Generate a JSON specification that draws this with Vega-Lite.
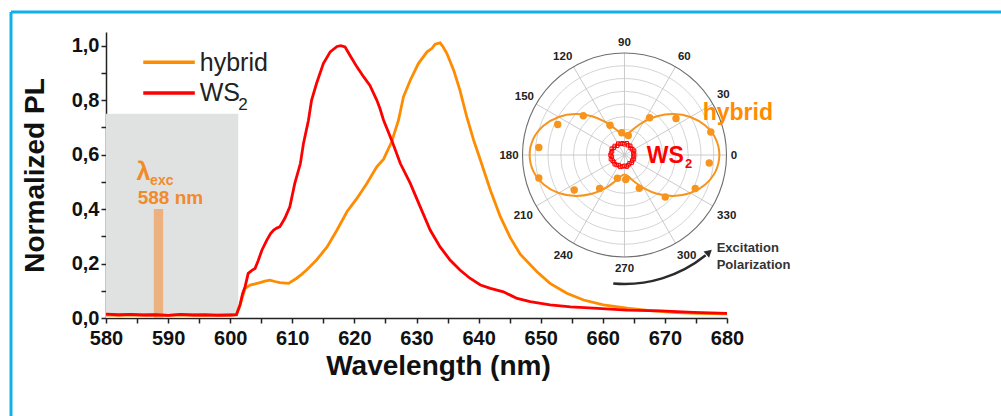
{
  "$schema": "https://vega.github.io/schema/vega-lite/v6.json",
  "width": 621,
  "height": 286,
  "autosize": {"type": "none"},
  "padding": {"left": 106, "top": 32, "right": 274, "bottom": 98},
  "background": "white",
  "config": {
    "view": {"stroke": null},
    "font": "Liberation Sans",
    "axis": {"grid": false, "tickSize": 5, "tickWidth": 1.5, "domainWidth": 1.5, "domainColor": "#222", "tickColor": "#222",
      "labelColor": "#111", "labelFontSize": 20, "labelFontWeight": "bold", "labelOverlap": false, "labelFlush": false,
      "titleFontSize": 28, "titleFontWeight": "bold", "titleColor": "#111", "zindex": 1}
  },
  "datasets": {
    "hyb": [
      {"nm": 580, "v": 0.012}, {"nm": 582, "v": 0.010}, {"nm": 584, "v": 0.012}, {"nm": 586, "v": 0.011},
      {"nm": 588, "v": 0.012}, {"nm": 590, "v": 0.010}, {"nm": 592, "v": 0.012}, {"nm": 594, "v": 0.011},
      {"nm": 596, "v": 0.010}, {"nm": 598, "v": 0.012}, {"nm": 600, "v": 0.011}, {"nm": 601, "v": 0.012},
      {"nm": 601.5, "v": 0.04}, {"nm": 602, "v": 0.08}, {"nm": 602.4, "v": 0.109}, {"nm": 603.2, "v": 0.121},
      {"nm": 604, "v": 0.125}, {"nm": 604.8, "v": 0.130}, {"nm": 605.6, "v": 0.135}, {"nm": 606.4, "v": 0.139},
      {"nm": 607.2, "v": 0.134}, {"nm": 608, "v": 0.130}, {"nm": 609.4, "v": 0.127}, {"nm": 610.7, "v": 0.146},
      {"nm": 611.5, "v": 0.160}, {"nm": 612.3, "v": 0.176}, {"nm": 613.9, "v": 0.213}, {"nm": 615.6, "v": 0.261},
      {"nm": 617.2, "v": 0.323}, {"nm": 618.8, "v": 0.390}, {"nm": 620.4, "v": 0.439}, {"nm": 622, "v": 0.494},
      {"nm": 623.6, "v": 0.555}, {"nm": 624.7, "v": 0.583}, {"nm": 626, "v": 0.647}, {"nm": 627.1, "v": 0.726},
      {"nm": 627.9, "v": 0.812}, {"nm": 629, "v": 0.873}, {"nm": 630.3, "v": 0.934}, {"nm": 631.7, "v": 0.977},
      {"nm": 632.5, "v": 0.990}, {"nm": 633, "v": 1.005}, {"nm": 633.8, "v": 1.010}, {"nm": 634.3, "v": 0.995},
      {"nm": 634.9, "v": 0.971}, {"nm": 636, "v": 0.909}, {"nm": 637, "v": 0.836}, {"nm": 638.1, "v": 0.738},
      {"nm": 639.2, "v": 0.653}, {"nm": 640.3, "v": 0.579}, {"nm": 641.9, "v": 0.469}, {"nm": 643.5, "v": 0.372},
      {"nm": 645.1, "v": 0.295}, {"nm": 646.7, "v": 0.234}, {"nm": 649.4, "v": 0.170}, {"nm": 651.5, "v": 0.127},
      {"nm": 654.2, "v": 0.091}, {"nm": 656.9, "v": 0.066}, {"nm": 660.1, "v": 0.048}, {"nm": 663.9, "v": 0.036},
      {"nm": 667.6, "v": 0.027}, {"nm": 671.9, "v": 0.020}, {"nm": 675.2, "v": 0.017}, {"nm": 680, "v": 0.015}
    ],
    "ws2": [
      {"nm": 580, "v": 0.014}, {"nm": 582, "v": 0.012}, {"nm": 584, "v": 0.013}, {"nm": 586, "v": 0.011},
      {"nm": 588, "v": 0.012}, {"nm": 590, "v": 0.010}, {"nm": 592, "v": 0.013}, {"nm": 594, "v": 0.011},
      {"nm": 596, "v": 0.012}, {"nm": 598, "v": 0.010}, {"nm": 600, "v": 0.011}, {"nm": 601, "v": 0.012},
      {"nm": 601.6, "v": 0.05}, {"nm": 602, "v": 0.09}, {"nm": 602.4, "v": 0.115}, {"nm": 602.9, "v": 0.164},
      {"nm": 603.5, "v": 0.175}, {"nm": 604, "v": 0.182}, {"nm": 604.5, "v": 0.210}, {"nm": 605.1, "v": 0.249},
      {"nm": 605.9, "v": 0.286}, {"nm": 606.5, "v": 0.310}, {"nm": 607, "v": 0.323}, {"nm": 607.5, "v": 0.330},
      {"nm": 608, "v": 0.335}, {"nm": 608.8, "v": 0.366}, {"nm": 609.6, "v": 0.408}, {"nm": 610.4, "v": 0.494},
      {"nm": 611.3, "v": 0.567}, {"nm": 611.8, "v": 0.641}, {"nm": 612.6, "v": 0.726}, {"nm": 613.1, "v": 0.799},
      {"nm": 613.9, "v": 0.861}, {"nm": 615, "v": 0.934}, {"nm": 616.1, "v": 0.977}, {"nm": 617.2, "v": 0.997},
      {"nm": 617.8, "v": 1.0}, {"nm": 618.5, "v": 0.995}, {"nm": 619.3, "v": 0.964}, {"nm": 620.4, "v": 0.922},
      {"nm": 621.5, "v": 0.885}, {"nm": 622.5, "v": 0.854}, {"nm": 623.6, "v": 0.800}, {"nm": 624.1, "v": 0.770},
      {"nm": 624.7, "v": 0.726}, {"nm": 626, "v": 0.653}, {"nm": 627.4, "v": 0.567}, {"nm": 629, "v": 0.494},
      {"nm": 630.6, "v": 0.408}, {"nm": 632.2, "v": 0.323}, {"nm": 633.8, "v": 0.261}, {"nm": 635.4, "v": 0.213},
      {"nm": 637, "v": 0.176}, {"nm": 638.6, "v": 0.146}, {"nm": 640.3, "v": 0.121}, {"nm": 641.9, "v": 0.109},
      {"nm": 644, "v": 0.096}, {"nm": 645.1, "v": 0.084}, {"nm": 646.2, "v": 0.072}, {"nm": 648.3, "v": 0.060},
      {"nm": 651.5, "v": 0.048}, {"nm": 654.8, "v": 0.041}, {"nm": 658.5, "v": 0.036}, {"nm": 663.9, "v": 0.029},
      {"nm": 669.3, "v": 0.026}, {"nm": 674.6, "v": 0.021}, {"nm": 680, "v": 0.017}
    ],
    "fit": [
      {"i": 0, "nm": 678.77, "v": 0.5984}, {"i": 1, "nm": 678.18, "v": 0.6576}, {"i": 2, "nm": 676.50, "v": 0.7063},
      {"i": 3, "nm": 674.09, "v": 0.7381}, {"i": 4, "nm": 671.35, "v": 0.7486}, {"i": 5, "nm": 668.73, "v": 0.7407},
      {"i": 6, "nm": 666.58, "v": 0.7201}, {"i": 7, "nm": 665.05, "v": 0.6958}, {"i": 8, "nm": 664.10, "v": 0.6767},
      {"i": 9, "nm": 663.49, "v": 0.6696}, {"i": 10, "nm": 662.89, "v": 0.6767}, {"i": 11, "nm": 661.93, "v": 0.6958},
      {"i": 12, "nm": 660.41, "v": 0.7201}, {"i": 13, "nm": 658.25, "v": 0.7407}, {"i": 14, "nm": 655.64, "v": 0.7486},
      {"i": 15, "nm": 652.90, "v": 0.7381}, {"i": 16, "nm": 650.49, "v": 0.7063}, {"i": 17, "nm": 648.81, "v": 0.6576},
      {"i": 18, "nm": 648.22, "v": 0.5984}, {"i": 19, "nm": 648.81, "v": 0.5392}, {"i": 20, "nm": 650.49, "v": 0.4905},
      {"i": 21, "nm": 652.90, "v": 0.4587}, {"i": 22, "nm": 655.64, "v": 0.4482}, {"i": 23, "nm": 658.25, "v": 0.4561},
      {"i": 24, "nm": 660.41, "v": 0.4767}, {"i": 25, "nm": 661.93, "v": 0.5010}, {"i": 26, "nm": 662.89, "v": 0.5201},
      {"i": 27, "nm": 663.49, "v": 0.5272}, {"i": 28, "nm": 664.10, "v": 0.5201}, {"i": 29, "nm": 665.05, "v": 0.5010},
      {"i": 30, "nm": 666.58, "v": 0.4767}, {"i": 31, "nm": 668.73, "v": 0.4561}, {"i": 32, "nm": 671.35, "v": 0.4482},
      {"i": 33, "nm": 674.09, "v": 0.4587}, {"i": 34, "nm": 676.50, "v": 0.4905}, {"i": 35, "nm": 678.18, "v": 0.5392}
    ],
    "dots": [
      {"nm": 656.86, "v": 0.7426}, {"nm": 652.74, "v": 0.7104}, {"nm": 649.70, "v": 0.6257},
      {"nm": 649.70, "v": 0.5141}, {"nm": 655.40, "v": 0.4699}, {"nm": 659.49, "v": 0.4756},
      {"nm": 662.36, "v": 0.5130}, {"nm": 663.69, "v": 0.5085}, {"nm": 665.88, "v": 0.4763},
      {"nm": 670.06, "v": 0.4441}, {"nm": 674.89, "v": 0.4756}, {"nm": 677.14, "v": 0.5692},
      {"nm": 677.39, "v": 0.6827}, {"nm": 671.79, "v": 0.7325}, {"nm": 667.54, "v": 0.7351},
      {"nm": 664.10, "v": 0.6699}, {"nm": 663.05, "v": 0.6800}, {"nm": 661.16, "v": 0.7078}
    ],
    "ring": [
      {"nm": 665.05, "v": 0.5984}, {"nm": 664.91, "v": 0.6055}, {"nm": 665.02, "v": 0.6138}, {"nm": 664.76, "v": 0.6194},
      {"nm": 664.48, "v": 0.6239}, {"nm": 664.41, "v": 0.6321}, {"nm": 664.07, "v": 0.6340}, {"nm": 663.86, "v": 0.6415},
      {"nm": 663.48, "v": 0.6377}, {"nm": 663.17, "v": 0.6415}, {"nm": 662.85, "v": 0.6392}, {"nm": 662.49, "v": 0.6403},
      {"nm": 662.31, "v": 0.6321}, {"nm": 661.93, "v": 0.6317}, {"nm": 661.79, "v": 0.6250}, {"nm": 661.44, "v": 0.6212},
      {"nm": 661.49, "v": 0.6123}, {"nm": 661.34, "v": 0.6059}, {"nm": 661.24, "v": 0.5984}, {"nm": 661.46, "v": 0.5917},
      {"nm": 661.31, "v": 0.5830}, {"nm": 661.59, "v": 0.5774}, {"nm": 661.80, "v": 0.5722}, {"nm": 661.92, "v": 0.5647},
      {"nm": 662.23, "v": 0.5617}, {"nm": 662.57, "v": 0.5613}, {"nm": 662.82, "v": 0.5546}, {"nm": 663.17, "v": 0.5565},
      {"nm": 663.48, "v": 0.5587}, {"nm": 663.84, "v": 0.5557}, {"nm": 664.10, "v": 0.5613}, {"nm": 664.30, "v": 0.5677},
      {"nm": 664.64, "v": 0.5703}, {"nm": 664.73, "v": 0.5778}, {"nm": 664.96, "v": 0.5834}, {"nm": 664.92, "v": 0.5913}
    ],
    "rings": [{"r": 0.125}, {"r": 0.25}, {"r": 0.375}, {"r": 0.5}, {"r": 0.625}, {"r": 0.75}, {"r": 0.875}],
    "spokes": [
      {"nm": 679.92, "v": 0.5984, "nm2": 647.07, "v2": 0.5984},
      {"nm": 677.72, "v": 0.7856, "nm2": 649.27, "v2": 0.4112},
      {"nm": 671.71, "v": 0.9227, "nm2": 655.28, "v2": 0.2741},
      {"nm": 663.49, "v": 0.9729, "nm2": 663.49, "v2": 0.2239},
      {"nm": 655.28, "v": 0.9227, "nm2": 671.71, "v2": 0.2741},
      {"nm": 649.27, "v": 0.7856, "nm2": 677.72, "v2": 0.4112}
    ],
    "angles": [
      {"t": "90", "nm": 663.49, "v": 1.0085}, {"t": "60", "nm": 673.12, "v": 0.9594}, {"t": "30", "nm": 679.41, "v": 0.8196},
      {"t": "0", "nm": 681.13, "v": 0.5958}, {"t": "330", "nm": 679.95, "v": 0.3745}, {"t": "300", "nm": 673.51, "v": 0.2276},
      {"t": "270", "nm": 663.49, "v": 0.1790}, {"t": "240", "nm": 653.64, "v": 0.2276}, {"t": "210", "nm": 647.20, "v": 0.3745},
      {"t": "180", "nm": 644.90, "v": 0.5958}, {"t": "150", "nm": 647.37, "v": 0.8126}, {"t": "120", "nm": 653.54, "v": 0.9572}
    ]
  },
  "encoding": {
    "x": {"type": "quantitative",
      "scale": {"domain": [580, 680], "nice": false, "zero": false},
      "axis": {"title": "Wavelength (nm)", "values": [580,585,590,595,600,605,610,615,620,625,630,635,640,645,650,655,660,665,670,675,680],
        "labelExpr": "datum.value % 10 === 0 ? datum.label : ''", "labelPadding": 5, "titlePadding": 4, "titleX": 332}},
    "y": {"type": "quantitative",
      "scale": {"domain": [0, 1.05], "nice": false, "zero": false},
      "axis": {"title": "Normalized PL", "values": [0,0.1,0.2,0.3,0.4,0.5,0.6,0.7,0.8,0.9,1.0],
        "labelExpr": "round(datum.value*10) % 2 === 0 ? replace(format(datum.value, '.1f'), '.', ',') : ''",
        "labelPadding": 2, "titlePadding": 22}}
  },
  "layer": [
    {
      "data": {"values": [{"x0": 580, "x1": 601.3, "y0": 0, "y1": 0.75}]},
      "mark": {"type": "rect", "color": "#e0e2e2"},
      "encoding": {"x": {"field": "x0"}, "x2": {"field": "x1"}, "y": {"field": "y0"}, "y2": {"field": "y1"}}
    },
    {
      "data": {"values": [{"x0": 587.7, "x1": 589.2, "y0": 0, "y1": 0.4}]},
      "mark": {"type": "rect", "color": "#edb07f"},
      "encoding": {"x": {"field": "x0"}, "x2": {"field": "x1"}, "y": {"field": "y0"}, "y2": {"field": "y1"}}
    },
    {
      "data": {"name": "hyb"},
      "mark": {"type": "line", "color": "#ff8c00", "strokeWidth": 2.8},
      "encoding": {"x": {"field": "nm"}, "y": {"field": "v"}}
    },
    {
      "data": {"name": "ws2"},
      "mark": {"type": "line", "color": "#ff0000", "strokeWidth": 2.8},
      "encoding": {"x": {"field": "nm"}, "y": {"field": "v"}}
    },
    {
      "data": {"values": [{"x0": 586.0, "x1": 594.3, "y": 0.939, "c": "hybrid"}, {"x0": 586.0, "x1": 594.3, "y": 0.826, "c": "WS2"}]},
      "mark": {"type": "rule", "strokeWidth": 3.5},
      "encoding": {
        "x": {"field": "x0"}, "x2": {"field": "x1"}, "y": {"field": "y"},
        "color": {"field": "c", "type": "nominal", "scale": {"domain": ["hybrid", "WS2"], "range": ["#ff8c00", "#ff0000"]}, "legend": null}
      }
    },
    {
      "data": {"values": [{"x": 595.1, "y": 0.908, "t": "hybrid"}, {"x": 595.1, "y": 0.796, "t": "WS"}]},
      "mark": {"type": "text", "align": "left", "baseline": "alphabetic", "fontSize": 25, "color": "#222"},
      "encoding": {"x": {"field": "x"}, "y": {"field": "y"}, "text": {"field": "t"}}
    },
    {
      "data": {"values": [{"x": 601.3, "y": 0.763, "t": "2"}]},
      "mark": {"type": "text", "align": "left", "baseline": "alphabetic", "fontSize": 17, "color": "#222"},
      "encoding": {"x": {"field": "x"}, "y": {"field": "y"}, "text": {"field": "t"}}
    },
    {
      "data": {"values": [{"x": 584.9, "y": 0.506, "t": "λ", "s": 25}, {"x": 587.1, "y": 0.488, "t": "exc", "s": 14}, {"x": 585.1, "y": 0.42, "t": "588 nm", "s": 19}]},
      "mark": {"type": "text", "align": "left", "baseline": "alphabetic", "fontWeight": "bold", "color": "#f28a2a"},
      "encoding": {
        "x": {"field": "x"}, "y": {"field": "y"}, "text": {"field": "t"},
        "size": {"field": "s", "type": "quantitative", "scale": null, "legend": null}
      }
    },
    {
      "data": {"values": [{"x0": 564.7, "x1": 724.5, "y0": 1.1233, "y1": 1.1233}, {"x0": 564.7, "x1": 564.7, "y0": 1.1233, "y1": -0.37}]},
      "mark": {"type": "rule", "color": "#10b0ea", "strokeWidth": 3},
      "encoding": {"x": {"field": "x0"}, "x2": {"field": "x1"}, "y": {"field": "y0"}, "y2": {"field": "y1"}}
    },
    {
      "data": {"name": "rings"},
      "mark": {"type": "arc", "theta": 0, "theta2": 6.2832, "filled": false, "stroke": "#cfcfcf", "strokeWidth": 0.9},
      "encoding": {
        "x": {"datum": 663.494}, "y": {"datum": 0.5984},
        "radius": {"field": "r", "type": "quantitative", "stack": null, "scale": {"type": "linear", "domain": [0, 1], "range": [0, 102], "zero": true, "nice": false}}
      }
    },
    {
      "data": {"name": "spokes"},
      "mark": {"type": "rule", "color": "#c4c4c4", "strokeWidth": 0.9},
      "encoding": {"x": {"field": "nm"}, "x2": {"field": "nm2"}, "y": {"field": "v"}, "y2": {"field": "v2"}}
    },
    {
      "data": {"values": [{"r": 1}]},
      "mark": {"type": "arc", "theta": 0, "theta2": 6.2832, "filled": false, "stroke": "#6e6e6e", "strokeWidth": 1.1},
      "encoding": {
        "x": {"datum": 663.494}, "y": {"datum": 0.5984},
        "radius": {"field": "r", "type": "quantitative", "stack": null}
      }
    },
    {
      "data": {"name": "fit"},
      "mark": {"type": "line", "color": "#f7941d", "strokeWidth": 2, "interpolate": "cardinal-closed"},
      "encoding": {"x": {"field": "nm"}, "y": {"field": "v"}, "order": {"field": "i", "type": "quantitative"}}
    },
    {
      "data": {"name": "dots"},
      "mark": {"type": "point", "shape": "circle", "filled": true, "color": "#f7941d", "size": 55, "opacity": 1},
      "encoding": {"x": {"field": "nm"}, "y": {"field": "v"}}
    },
    {
      "data": {"name": "ring"},
      "mark": {"type": "point", "shape": "square", "filled": false, "color": "#ff0000", "size": 12, "strokeWidth": 1, "opacity": 1},
      "encoding": {"x": {"field": "nm"}, "y": {"field": "v"}}
    },
    {
      "data": {"name": "angles"},
      "mark": {"type": "text", "align": "center", "baseline": "middle", "fontSize": 11.5, "fontWeight": "bold", "color": "#222"},
      "encoding": {"x": {"field": "nm"}, "y": {"field": "v"}, "text": {"field": "t"}}
    },
    {
      "data": {"values": [
        {"nm": 676.09, "v": 0.7260, "t": "hybrid", "c": "o", "s": 23},
        {"nm": 667.08, "v": 0.5681, "t": "WS", "c": "r", "s": 23},
        {"nm": 673.23, "v": 0.5508, "t": "2", "c": "r", "s": 13}
      ]},
      "mark": {"type": "text", "align": "left", "baseline": "alphabetic", "fontWeight": "bold"},
      "encoding": {
        "x": {"field": "nm"}, "y": {"field": "v"}, "text": {"field": "t"},
        "size": {"field": "s", "type": "quantitative", "scale": null, "legend": null},
        "color": {"field": "c", "type": "nominal", "scale": {"domain": ["o", "r"], "range": ["#f7941d", "#ee1c25"]}, "legend": null}
      }
    },
    {
      "data": {"values": [{"nm": 678.34, "v": 0.2557, "t": "Excitation"}, {"nm": 678.34, "v": 0.1947, "t": "Polarization"}]},
      "mark": {"type": "text", "align": "left", "baseline": "middle", "fontSize": 13, "fontWeight": "bold", "color": "#333"},
      "encoding": {"x": {"field": "nm"}, "y": {"field": "v"}, "text": {"field": "t"}}
    },
    {
      "data": {"values": [{"a0": 265, "a1": 309, "r0": 1.252, "r1": 1.276}]},
      "mark": {"type": "arc", "color": "#2b2b2b"},
      "encoding": {
        "x": {"datum": 663.494}, "y": {"datum": 0.5984},
        "theta": {"field": "a0", "type": "quantitative", "stack": null, "scale": {"domain": [0, 360], "range": [1.5708, -4.7124]}},
        "theta2": {"field": "a1"},
        "radius": {"field": "r0", "type": "quantitative", "stack": null},
        "radius2": {"field": "r1"}
      }
    },
    {
      "data": {"values": [{"nm": 677.11, "v": 0.2415}]},
      "mark": {"type": "point", "shape": "triangle-up", "filled": true, "color": "#2b2b2b", "size": 70, "angle": 49, "opacity": 1},
      "encoding": {"x": {"field": "nm"}, "y": {"field": "v"}}
    }
  ]
}
